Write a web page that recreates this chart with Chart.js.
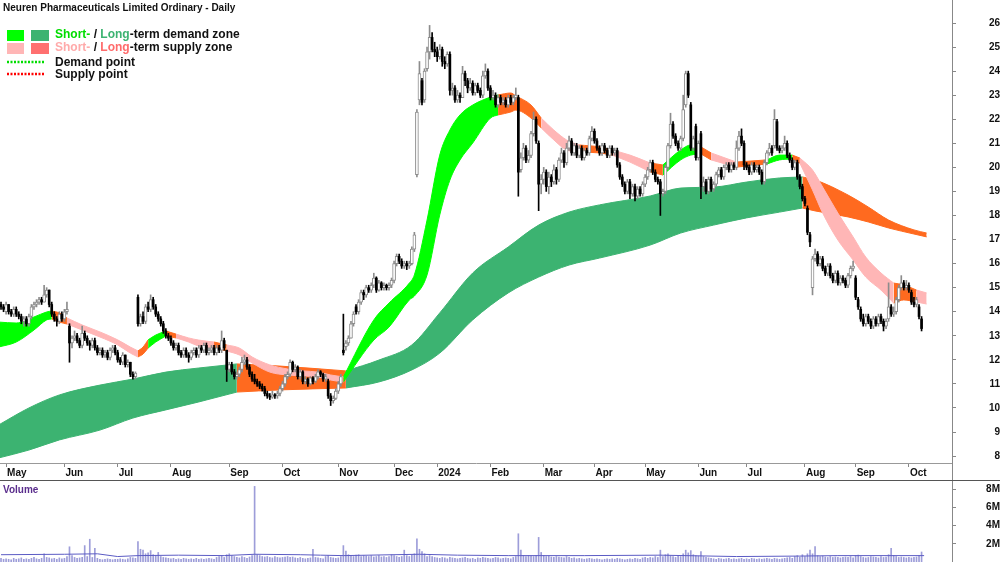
<!DOCTYPE html>
<html>
<head>
<meta charset="utf-8">
<script src="https://cdn.jsdelivr.net/npm/chart.js@4.4.1/dist/chart.umd.min.js"></script>
<style>
  html, body { margin: 0; padding: 0; background: #fff; }
  #wrap { position: relative; width: 1000px; height: 562px; overflow: hidden; }
  #price { position: absolute; left: 0; top: 0; }
  #vol { position: absolute; left: 0; top: 480px; }
</style>
</head>
<body>
<div id="wrap">
  <canvas id="price" width="1000" height="480"></canvas>
  <canvas id="vol" width="1000" height="82"></canvas>
</div>
<script>
// Titel + achsen
const chartTitle = "Neuren Pharmaceuticals Limited Ordinary - Daily";
const monthTickIdx = [2, 25, 46, 67, 90, 111, 133, 155, 172, 193, 214, 234, 254, 275, 294, 317, 337, 358];
const monthLabels = ["May","Jun","Jul","Aug","Sep","Oct","Nov","Dec","2024","Feb","Mar","Apr","May","Jun","Jul","Aug","Sep","Oct"];
const priceTicks = [8,9,10,11,12,13,14,15,16,17,18,19,20,21,22,23,24,25,26];
const volumeTicks = [2, 4, 6, 8];

// daily bars, one entry per trading day (index 0 = late Apr 2023)
const opens = [
  14.3,14.2,14.0,14.3,14.0,13.9,14.1,13.9,13.8,13.6, 13.7,13.5,13.8,14.2,14.3,14.4,14.5,14.4,14.7,14.9,
  14.3,13.9,13.7,13.6,13.9,13.7,14.0,13.4,12.7,12.9, 13.0,12.8,12.6,13.1,12.9,12.7,12.6,12.8,12.5,12.3,
  12.4,12.2,12.3,12.1,12.4,12.5,12.3,12.0,11.9,12.2, 11.8,11.9,11.4,11.3,14.6,13.5,13.8,13.6,14.2,14.1,
  14.5,14.2,13.9,13.7,13.5,13.2,13.0,12.9,12.7,12.5, 12.6,12.3,12.2,12.4,12.2,12.1,12.3,12.4,12.2,12.5,
  12.4,12.6,12.3,12.4,12.5,12.3,12.5,12.4,12.8,12.4, 11.6,11.8,11.5,11.3,11.4,11.6,11.9,12.0,11.7,11.4,
  11.2,11.1,11.0,10.9,10.8,10.6,10.5,10.45,10.55,10.5, 10.6,10.8,11.0,11.3,11.4,11.9,11.6,11.7,11.3,11.5,
  11.1,11.2,11.0,11.25,11.1,11.3,11.5,11.4,11.2,11.1, 10.5,10.3,10.4,10.7,11.0,12.4,12.55,12.7,12.9,13.5,
  14.2,14.0,14.4,14.8,14.7,15.0,14.9,15.1,15.4,14.9, 15.2,15.0,15.1,15.0,15.1,15.3,16.0,16.3,16.1,15.9,
  16.0,15.9,16.0,16.6,19.7,22.8,23.6,22.8,24.1,24.8, 25.4,24.9,24.8,24.6,24.9,24.4,24.3,24.7,23.2,23.3,
  22.8,23.0,22.9,23.9,23.6,23.3,23.5,23.1,23.4,23.2, 23.0,23.8,24.0,23.3,22.9,23.0,22.6,22.9,22.7,22.8,
  22.6,22.9,22.7,22.9,22.9,19.9,20.4,20.8,20.3,20.5, 21.4,22.0,21.0,19.3,19.5,19.8,19.2,19.6,19.4,19.9,
  19.5,20.3,20.6,20.2,20.8,21.1,20.6,20.9,20.5,20.8, 20.4,20.7,20.6,21.2,21.5,21.1,20.8,20.6,20.9,20.7,
  20.5,20.8,20.6,20.7,20.1,19.6,19.3,19.0,19.4,18.9, 19.2,18.8,19.1,18.9,19.3,19.6,19.9,20.2,19.8,19.5,
  19.4,18.9,19.0,20.0,20.9,21.8,21.3,21.0,20.8,21.2, 22.6,23.9,22.6,20.8,21.7,20.4,21.4,19.2,19.4,19.0,
  19.5,19.1,19.3,19.7,19.9,19.6,20.0,20.1,19.9,20.1, 20.0,20.8,21.3,21.0,20.1,20.0,19.8,20.1,19.9,20.0,
  19.8,19.4,20.2,20.6,20.8,20.9,21.9,20.8,20.7,20.8, 21.0,20.5,20.3,20.0,20.2,19.6,19.2,18.7,18.3,17.2,
  15.0,16.2,16.4,16.0,16.2,15.8,15.6,15.9,15.5,15.3, 15.6,15.2,15.4,15.3,15.1,15.5,15.8,15.4,14.5,14.1,
  13.7,13.5,13.8,13.6,13.4,13.7,13.5,13.8,13.6,13.4, 13.7,14.2,13.9,14.0,14.5,15.0,15.2,15.0,15.1,14.8,
  14.4,14.3,14.2,13.7
];
const highs = [
  14.4,14.3,14.4,14.3,14.1,14.2,14.2,14.0,13.9,13.8, 13.8,13.9,14.3,14.4,14.5,14.6,14.6,15.1,15.0,14.9,
  14.4,14.0,13.8,14.0,14.0,14.1,14.4,13.5,13.0,13.2, 13.1,12.9,13.4,13.2,13.0,12.8,12.9,12.9,12.6,12.5,
  12.5,12.4,12.4,12.5,12.6,12.6,12.4,12.1,12.3,12.2, 12.0,11.9,11.5,11.5,14.7,13.9,14.0,14.3,14.4,14.7,
  14.6,14.3,14.0,13.8,13.6,13.3,13.1,13.0,12.8,12.7, 12.7,12.4,12.5,12.5,12.3,12.4,12.5,12.5,12.6,12.6,
  12.7,12.7,12.5,12.6,12.6,12.6,12.6,13.2,12.9,12.4, 11.9,11.9,11.6,11.5,11.7,12.1,12.2,12.1,11.8,11.5,
  11.4,11.2,11.1,11.0,10.9,10.7,10.6,10.7,10.6,10.7, 10.9,11.1,11.4,11.5,12.0,11.95,11.8,11.75,11.6,11.55,
  11.3,11.25,11.3,11.3,11.4,11.6,11.55,11.45,11.4,11.2, 10.6,10.5,10.8,11.1,11.4,13.9,12.8,13.0,13.6,14.0,
  14.3,14.5,14.9,14.9,15.1,15.1,15.2,15.6,15.45,15.3, 15.25,15.2,15.15,15.2,15.4,16.1,16.4,16.4,16.2,16.1,
  16.1,16.1,16.7,17.3,22.4,24.4,23.7,24.1,25.0,25.9, 25.6,25.2,25.0,25.1,25.0,24.6,24.8,24.8,23.5,23.4,
  23.2,23.1,24.2,24.0,23.7,23.7,23.6,23.5,23.5,23.3, 24.0,24.3,24.1,23.4,23.2,23.1,23.0,23.0,22.9,22.9,
  23.0,23.0,23.0,23.3,23.0,20.6,21.0,20.9,20.7,21.5, 22.3,22.1,21.1,19.7,20.0,19.9,19.8,19.7,20.1,20.0,
  20.4,20.8,20.7,21.0,21.3,21.2,21.0,21.0,20.9,20.9, 20.8,20.8,21.3,21.7,21.6,21.2,20.9,21.0,21.0,20.8,
  20.9,20.9,20.8,20.8,20.2,19.7,19.4,19.5,19.5,19.3, 19.3,19.2,19.2,19.4,19.7,20.0,20.3,20.3,19.9,19.6,
  19.5,19.1,20.1,21.0,22.25,21.9,21.4,21.1,21.3,23.0, 24.0,24.0,22.7,21.3,21.8,21.1,21.5,19.6,19.5,19.6,
  19.6,19.4,19.8,20.0,20.0,20.1,20.2,20.2,20.2,20.2, 21.1,21.5,21.6,21.1,20.2,20.1,20.2,20.2,20.1,20.1,
  19.9,20.3,20.7,21.0,20.9,22.4,22.0,20.9,20.9,21.3, 21.1,20.6,20.4,20.3,20.3,19.7,19.3,18.8,18.4,17.3,
  16.3,16.6,16.5,16.3,16.3,15.9,16.0,16.0,15.6,15.7, 15.7,15.5,15.5,15.4,15.6,15.9,16.1,15.5,14.6,14.2,
  13.9,13.9,13.9,13.7,13.8,13.8,13.9,13.9,13.7,13.7, 15.2,14.3,14.2,14.6,15.1,15.5,15.3,15.3,15.2,14.9,
  14.6,14.6,14.3,13.8
];
const lows = [
  14.1,14.0,13.9,13.9,13.8,13.8,13.8,13.7,13.5,13.4, 13.4,13.4,13.7,14.1,14.2,14.3,14.3,14.4,14.6,14.2,
  13.8,13.6,13.4,13.5,13.6,13.6,13.9,11.9,12.5,12.8, 12.7,12.5,12.5,12.8,12.6,12.4,12.5,12.4,12.2,12.2,
  12.1,12.1,12.0,12.0,12.3,12.2,11.9,11.8,11.8,11.7, 11.7,11.3,11.2,11.2,13.4,13.4,13.5,13.5,14.0,14.0,
  14.1,13.8,13.6,13.4,13.1,12.9,12.8,12.6,12.4,12.4, 12.2,12.1,12.1,12.1,11.9,12.0,12.2,12.1,12.1,12.3,
  12.3,12.2,12.2,12.3,12.2,12.2,12.3,12.3,12.4,11.1, 11.5,11.4,11.2,11.2,11.3,11.5,11.8,11.6,11.3,11.1,
  11.0,10.9,10.8,10.7,10.5,10.4,10.35,10.4,10.4,10.4, 10.5,10.7,10.9,11.2,11.3,11.5,11.5,11.2,11.2,11.0,
  11.0,10.9,10.95,11.0,11.05,11.2,11.3,11.1,11.1,10.4, 10.1,10.2,10.35,10.6,10.9,12.2,12.4,12.6,12.9,13.4,
  13.9,13.9,14.3,14.5,14.6,14.8,14.8,15.0,14.8,14.85, 14.9,14.9,14.9,14.9,15.0,15.2,15.9,16.0,15.8,15.8,
  15.75,15.8,15.95,16.5,19.6,22.6,22.6,22.7,24.0,24.5, 24.8,24.6,24.4,24.5,24.2,24.1,24.2,23.0,23.0,22.7,
  22.7,22.7,22.9,23.4,23.1,23.2,23.0,23.0,23.1,22.9, 22.9,23.7,23.2,22.8,22.8,22.5,22.5,22.6,22.6,22.5,
  22.5,22.6,22.6,22.8,18.8,19.8,20.3,20.2,20.2,20.4, 21.3,21.0,18.2,18.9,19.3,19.0,18.9,19.2,19.3,19.3,
  19.4,20.2,20.0,20.1,20.7,20.5,20.5,20.4,20.4,20.3, 20.3,20.5,20.5,21.1,21.0,20.7,20.5,20.5,20.6,20.4,
  20.4,20.5,20.5,20.0,19.5,19.2,18.9,18.9,18.7,18.8, 18.6,18.7,18.8,18.8,19.2,19.5,19.8,19.7,19.4,19.3,
  18.0,18.8,18.9,19.9,20.8,21.2,20.9,20.7,20.7,21.1, 22.5,22.9,20.7,20.7,20.3,20.3,18.7,19.0,18.9,18.9,
  19.0,19.0,19.2,19.6,19.5,19.5,19.9,19.8,19.8,19.9, 19.9,20.7,20.9,19.9,19.9,19.7,19.7,19.8,19.8,19.7,
  19.3,19.3,20.1,20.5,20.5,20.8,20.7,20.6,20.6,20.7, 20.4,20.2,19.9,19.9,19.5,19.1,18.6,18.4,17.2,16.7,
  14.7,16.1,15.9,15.9,15.7,15.5,15.5,15.4,15.2,15.2, 15.1,15.1,15.2,15.0,15.0,15.4,15.7,14.5,14.1,13.6,
  13.4,13.4,13.5,13.3,13.3,13.4,13.4,13.5,13.2,13.3, 13.6,13.8,13.8,13.9,14.4,14.9,14.9,14.9,14.8,14.3,
  14.2,14.2,13.7,13.2
];
const closes = [
  14.2,14.1,14.3,14.0,13.9,14.1,13.9,13.8,13.6,13.7, 13.5,13.8,14.2,14.3,14.4,14.5,14.4,14.7,14.9,14.3,
  13.9,13.7,13.6,13.9,13.7,14.0,14.1,12.7,12.9,13.0, 12.8,12.6,13.1,12.9,12.7,12.6,12.8,12.5,12.3,12.4,
  12.2,12.3,12.1,12.4,12.5,12.3,12.0,11.9,12.2,11.8, 11.9,11.4,11.3,11.45,13.5,13.8,13.6,14.2,14.1,14.5,
  14.2,13.9,13.7,13.5,13.2,13.0,12.9,12.7,12.5,12.6, 12.3,12.2,12.4,12.2,12.1,12.3,12.4,12.2,12.5,12.4,
  12.6,12.3,12.4,12.5,12.3,12.5,12.4,12.8,12.5,11.6, 11.8,11.5,11.3,11.4,11.6,11.9,12.0,11.7,11.4,11.2,
  11.1,11.0,10.9,10.8,10.6,10.5,10.45,10.55,10.5,10.6, 10.8,11.0,11.3,11.4,11.9,11.6,11.7,11.3,11.5,11.1,
  11.2,11.0,11.25,11.1,11.3,11.5,11.4,11.2,11.3,10.5, 10.3,10.4,10.7,11.0,11.3,12.3,12.7,12.9,13.5,13.9,
  14.0,14.4,14.8,14.7,15.0,14.9,15.1,15.4,14.9,15.2, 15.0,15.1,15.0,15.1,15.3,16.0,16.3,16.1,15.9,16.0,
  15.9,16.0,16.6,17.2,22.3,23.9,22.7,24.0,24.8,25.4, 24.9,24.8,24.6,24.9,24.4,24.3,24.7,23.2,23.3,22.8,
  23.0,22.9,23.9,23.6,23.3,23.5,23.1,23.4,23.2,23.0, 23.8,24.0,23.3,22.9,23.0,22.6,22.9,22.7,22.8,22.6,
  22.9,22.7,22.9,23.0,19.8,20.4,20.8,20.3,20.5,21.4, 22.0,21.1,19.3,19.5,19.8,19.2,19.6,19.4,19.9,19.5,
  20.3,20.6,20.2,20.8,21.1,20.6,20.9,20.5,20.8,20.4, 20.7,20.6,21.2,21.5,21.1,20.8,20.6,20.9,20.7,20.5,
  20.8,20.6,20.7,20.1,19.6,19.3,19.0,19.4,18.9,19.2, 18.8,19.1,18.9,19.3,19.6,19.9,20.2,19.8,19.5,19.4,
  18.9,19.0,20.0,20.9,21.8,21.3,21.0,20.8,21.2,22.4, 23.9,23.0,20.8,21.2,20.4,21.0,19.2,19.4,19.0,19.5,
  19.1,19.3,19.7,19.9,19.6,20.0,20.1,19.9,20.1,20.0, 20.8,21.3,21.0,20.1,20.0,19.8,20.1,19.9,20.0,19.8,
  19.4,20.2,20.6,20.8,20.6,22.0,20.8,20.7,20.8,21.0, 20.5,20.3,20.0,20.2,19.6,19.2,18.7,18.5,17.3,16.9,
  16.2,16.4,16.0,16.2,15.8,15.6,15.9,15.5,15.3,15.6, 15.2,15.4,15.3,15.1,15.5,15.8,15.9,14.6,14.2,13.7,
  13.5,13.8,13.6,13.4,13.7,13.5,13.8,13.6,13.4,13.6, 14.2,13.9,14.0,14.5,15.0,15.2,15.0,15.1,14.9,14.4,
  14.3,14.5,13.8,13.3
];
// volume in millions
const volumes = [
  0.4,0.3,0.35,0.3,0.25,0.4,0.3,0.35,0.45,0.3, 0.35,0.3,0.4,0.5,0.35,0.3,0.4,0.9,0.5,0.45,
  0.35,0.4,0.3,0.45,0.35,0.4,0.6,1.67,0.7,0.5, 0.4,0.45,0.5,1.8,0.6,2.5,0.5,1.5,0.4,0.3,
  0.25,0.3,0.35,0.3,0.25,0.3,0.3,0.35,0.3,0.25, 0.35,0.5,0.45,0.4,2.25,1.4,1.3,0.9,1.0,1.25,
  0.8,0.7,1.05,0.6,0.5,0.45,0.4,0.35,0.4,0.3, 0.35,0.3,0.4,0.35,0.3,0.35,0.3,0.4,0.3,0.35,
  0.3,0.35,0.4,0.35,0.3,0.5,0.6,0.7,0.5,0.8, 0.9,0.7,0.6,0.5,0.45,0.6,0.5,0.4,0.55,0.7,
  8.3,0.8,0.7,0.6,0.55,0.6,0.5,0.45,0.6,0.5, 0.45,0.5,0.55,0.6,0.5,0.55,0.45,0.4,0.5,0.4,
  0.35,0.4,0.45,1.4,0.5,0.45,0.4,0.35,0.6,0.7, 0.5,0.45,0.4,0.45,0.6,1.8,1.2,0.8,0.7,0.6,
  0.75,0.8,0.6,0.7,0.65,0.6,0.7,0.55,0.6,0.7, 0.55,0.6,0.5,0.6,0.8,0.7,0.6,0.5,0.6,1.3,
  0.7,0.6,0.8,0.9,2.55,1.4,1.15,0.9,0.6,0.7, 0.6,0.5,0.45,0.4,0.5,0.45,0.35,0.5,0.45,0.4,
  0.35,0.4,0.45,0.5,0.4,0.35,0.4,0.3,0.45,0.4, 0.5,0.45,0.4,0.35,0.4,0.5,0.45,0.35,0.4,0.45,
  0.4,0.35,0.5,0.6,3.1,1.3,0.7,0.6,0.7,0.65, 0.6,0.7,2.7,1.05,0.7,0.6,0.65,0.55,0.5,0.6,
  0.55,0.5,0.45,0.6,0.5,0.4,0.45,0.35,0.4,0.35, 0.3,0.35,0.4,0.35,0.3,0.35,0.3,0.25,0.3,0.35,
  0.3,0.35,0.3,0.4,0.35,0.3,0.25,0.3,0.35,0.3, 0.4,0.35,0.3,0.45,0.5,0.4,0.5,0.45,0.6,0.5,
  1.3,0.6,0.8,0.9,0.7,0.6,0.5,0.7,0.6,0.9, 1.3,1.0,1.25,0.8,0.7,0.65,1.15,0.6,0.5,0.45,
  0.4,0.35,0.3,0.4,0.35,0.3,0.35,0.4,0.3,0.35, 0.3,0.35,0.4,0.3,0.35,0.3,0.4,0.35,0.3,0.35,
  0.3,0.35,0.4,0.35,0.3,0.4,0.35,0.3,0.35,0.4, 0.45,0.5,0.4,0.6,0.7,0.55,0.8,0.6,0.9,1.3,
  0.9,1.7,0.7,0.6,0.65,0.55,0.5,0.6,0.5,0.55, 0.5,0.45,0.5,0.55,0.5,0.6,0.45,0.7,0.75,0.6,
  0.5,0.45,0.5,0.6,0.55,0.5,0.45,0.6,0.5,0.55, 0.8,1.5,0.7,0.6,0.5,0.55,0.5,0.45,0.5,0.45,
  0.5,0.55,0.7,1.1
];
const volAvgIdx = [0, 25, 38, 46, 54, 70, 88, 100, 118, 126, 135, 165, 180, 200, 230, 260, 290, 315, 330, 364];
const volAvg    = [0.8, 0.85, 0.9, 0.6, 0.7, 0.75, 0.7, 0.85, 0.8, 0.75, 0.7, 0.85, 0.75, 0.7, 0.7, 0.75, 0.6, 0.65, 0.7, 0.7];

// long-term zone (D = demand, S = supply), zone letter = colour up to the next sample
const longIdx = [-1, 11, 23, 39, 52, 65, 78, 93, 110, 136, 149, 162, 173, 186, 200, 212, 224, 236, 256, 268, 281, 294, 307, 316, 321, 334, 342, 350, 360, 365];
const longHi  = [9.29, 10.0, 10.54, 10.95, 11.20, 11.49, 11.66, 11.83, 11.74, 11.54, 11.99, 12.62, 13.95, 15.61, 16.69, 17.60, 18.14, 18.44, 18.81, 19.14, 19.18, 19.39, 19.56, 19.60, 19.48, 18.85, 18.35, 17.81, 17.40, 17.27];
const longLo  = [7.92, 8.25, 8.67, 9.08, 9.58, 9.92, 10.25, 10.66, 10.75, 10.83, 11.08, 11.58, 12.28, 13.66, 14.78, 15.44, 15.94, 16.23, 16.77, 17.27, 17.60, 17.90, 18.14, 18.31, 18.19, 17.94, 17.73, 17.48, 17.23, 17.11];
const longZones = "DDDDDDDSSDDDDDDDDDDDDDDSSSSSSS";

// short-term zone (G = demand, P = supply, O = supply dark)
const shortIdx = [-1, 6, 13, 18, 20, 23, 26, 32, 39, 46, 51, 54, 56, 58, 61, 65, 69, 74, 78, 84, 89, 94, 99, 106, 113, 119, 125, 130, 135, 147, 153, 161, 163, 168, 173, 177, 181, 186, 193, 196, 201, 203, 209, 213, 218, 223, 228, 236, 241, 248, 256, 261, 268, 272, 276, 280, 290, 302, 307, 312, 315, 320, 324, 330, 336, 341, 347, 352, 356, 361, 365];
const shortHi = [13.57,13.53,13.78,13.99,14.03,13.95,13.74,13.45,13.16,12.83, 12.53,12.37,12.53,12.83,13.03,13.20,13.07,12.91,12.82,12.74,
  12.62,12.49,12.12,11.79,11.62,11.54,11.49,11.37,11.29,13.66, 14.36,15.19,15.53,17.81,20.51,21.55,22.18,22.59,22.92,23.01,
  23.09,22.97,22.59,22.05,21.55,21.14,20.93,20.85,20.72,20.51, 20.18,20.10,20.72,20.93,20.85,20.60,20.22,20.31,20.51,20.51,
  20.39,19.89,19.18,18.10,17.11,16.27,15.61,15.19,15.11,14.90, 14.78];
const shortLo = [12.53,12.74,13.24,13.66,13.70,13.57,13.49,13.24,12.95,12.62, 12.28,12.12,12.24,12.49,12.74,12.99,12.91,12.74,12.57,12.49,
  12.37,12.20,11.87,11.49,11.37,11.33,11.29,11.16,11.08,12.82, 13.36,14.49,14.65,15.53,18.02,19.47,20.31,21.01,22.05,22.18,
  22.30,22.38,22.05,21.64,21.14,20.72,20.64,20.60,20.51,20.22, 19.81,19.68,20.31,20.51,20.56,20.31,20.01,20.14,20.31,20.35,
  20.18,19.06,18.10,16.98,16.15,15.44,14.90,14.36,14.49,14.40, 14.32];
const shortZones = "GGGGOOPPPPPOOGGOPPPOPPPPPPPPGGGGGGGGGGGOOOOPPPOOPPOGGGOPOGGOPPPPPPPOOPP";

const ZONE_COLORS = { G: "#00ff00", D: "#3cb371", P: "#ffb6b6", O: "#ff6a1f", S: "#ff6a1f" };

const FONT = '"Liberation Sans", Arial, sans-serif';
Chart.defaults.font.family = FONT;

// bands als paar line-datasets, obere fuellt bis zur unteren
function addBand(datasets, idx, hi, lo, zones, order) {
  let a = 0;
  while (a < idx.length - 1) {
    let b = a + 1;
    while (b < idx.length - 1 && zones[b] === zones[a]) b++;
    const col = ZONE_COLORS[zones[a]];
    const loPts = [], hiPts = [];
    for (let k = a; k <= b; k++) {
      loPts.push({ x: idx[k], y: lo[k] });
      hiPts.push({ x: idx[k], y: hi[k] });
    }
    const loIndex = datasets.length;
    datasets.push({ type: "line", data: loPts, borderColor: col, borderWidth: 1, pointRadius: 0,
      fill: false, order, cubicInterpolationMode: "monotone" });
    datasets.push({ type: "line", data: hiPts, borderColor: col, borderWidth: 1, backgroundColor: col,
      pointRadius: 0, fill: loIndex, order, cubicInterpolationMode: "monotone" });
    a = b;
  }
}

// candle parts
const wickData = [], wickColors = [], upData = [], downData = [];
closes.forEach((c, i) => {
  const up = c >= opens[i];
  wickData.push({ x: i, y: [lows[i], highs[i]] });
  wickColors.push(up ? "#8c8c8c" : "#000000");
  if (up) upData.push({ x: i, y: [opens[i], c] });
  else downData.push({ x: i, y: [c, opens[i]] });
});

const priceSets = [];
addBand(priceSets, longIdx, longHi, longLo, longZones, 20);
addBand(priceSets, shortIdx, shortHi, shortLo, shortZones, 10);
priceSets.push({ type: "bar", data: wickData, backgroundColor: wickColors, barThickness: 1, grouped: false, order: 3 });
priceSets.push({ type: "bar", data: upData, backgroundColor: "#ffffff", borderColor: "#8c8c8c", borderWidth: 1,
  borderSkipped: false, barThickness: 3, minBarLength: 1, grouped: false, order: 2 });
priceSets.push({ type: "bar", data: downData, backgroundColor: "#000000", barThickness: 2, minBarLength: 1,
  grouped: false, order: 1 });

const legendRows = [
  { y: 38, boxes: ["#00ff00", "#3cb371"], parts: [["Short-", "#00dd00"], [" / ", "#111"], ["Long", "#3cb371"], ["-term demand zone", "#111"]] },
  { y: 51, boxes: ["#ffb6b6", "#ff7070"], parts: [["Short-", "#ffaaaa"], [" / ", "#111"], ["Long", "#ff6b6b"], ["-term supply zone", "#111"]] },
  { y: 66, dots: "#00dd00", parts: [["Demand point", "#111"]] },
  { y: 78, dots: "#ff0000", parts: [["Supply point", "#111"]] }
];

const headerPlugin = {
  id: "header",
  afterDraw(chart) {
    const ctx = chart.ctx;
    ctx.save();
    ctx.textBaseline = "alphabetic";
    ctx.font = "bold 10px " + FONT;
    ctx.fillStyle = "#111";
    ctx.fillText(chartTitle, 3, 11);
    ctx.font = "bold 12px " + FONT;
    legendRows.forEach(row => {
      if (row.boxes) {
        ctx.fillStyle = row.boxes[0]; ctx.fillRect(7, row.y - 8, 17, 11);
        ctx.fillStyle = row.boxes[1]; ctx.fillRect(31, row.y - 8, 18, 11);
      } else {
        ctx.strokeStyle = row.dots; ctx.lineWidth = 2.5; ctx.setLineDash([2, 1.5]);
        ctx.beginPath(); ctx.moveTo(7, row.y - 4); ctx.lineTo(44, row.y - 4); ctx.stroke();
        ctx.setLineDash([]);
      }
      let x = 55;
      row.parts.forEach(([t, c]) => { ctx.fillStyle = c; ctx.fillText(t, x, row.y); x += ctx.measureText(t).width; });
    });
    // axis line through the month strip
    ctx.strokeStyle = "#888"; ctx.lineWidth = 1;
    ctx.beginPath(); ctx.moveTo(chart.chartArea.right + 0.5, chart.chartArea.bottom); ctx.lineTo(chart.chartArea.right + 0.5, 480); ctx.stroke();
    ctx.restore();
  }
};

new Chart(document.getElementById("price"), {
  type: "bar",
  data: { datasets: priceSets },
  options: {
    responsive: false, animation: false, devicePixelRatio: 1, events: [],
    layout: { padding: 0 },
    plugins: { legend: { display: false }, tooltip: { enabled: false }, title: { display: false } },
    scales: {
      x: {
        type: "linear", min: -0.4, max: 375, offset: false, position: "bottom",
        grid: { display: true, offset: false, drawOnChartArea: false, drawTicks: true, tickLength: 4, color: "#888" },
        border: { display: true, color: "#999" },
        ticks: { autoSkip: false, maxRotation: 0, align: "start", labelOffset: 1, padding: 0, color: "#111",
          font: { size: 10, weight: "bold" }, callback: (v, i) => monthLabels[i] },
        afterBuildTicks: s => { s.ticks = monthTickIdx.map(v => ({ value: v })); },
        afterFit: s => { s.height = 17; s.paddingLeft = 0; s.paddingRight = 0; }
      },
      y: {
        position: "right", min: 7.712, max: 26.956,
        grid: { drawOnChartArea: false, tickLength: 4, color: "#888" },
        border: { color: "#888" },
        ticks: { crossAlign: "far", padding: 21, color: "#111", font: { size: 10, weight: "bold" } },
        afterBuildTicks: s => { s.ticks = priceTicks.map(v => ({ value: v })); },
        afterFit: s => { s.width = 48; s.paddingTop = 0; s.paddingBottom = 0; }
      }
    }
  },
  plugins: [headerPlugin]
});

// volume panel
const volumePlugin = {
  id: "volHeader",
  afterDraw(chart) {
    const ctx = chart.ctx;
    ctx.save();
    ctx.strokeStyle = "#555"; ctx.lineWidth = 1;
    ctx.beginPath(); ctx.moveTo(0, 0.5); ctx.lineTo(1000, 0.5); ctx.stroke();
    ctx.font = "bold 10px " + FONT;
    ctx.fillStyle = "#5a2d8c";
    ctx.fillText("Volume", 3, 13);
    ctx.restore();
  }
};

new Chart(document.getElementById("vol"), {
  type: "bar",
  data: {
    datasets: [
      { type: "line", data: volAvgIdx.map((x, k) => ({ x, y: volAvg[k] })), borderColor: "#5b5bc4", borderWidth: 1,
        pointRadius: 0, order: 1 },
      { type: "bar", data: volumes.map((v, i) => ({ x: i, y: v })), backgroundColor: "#9d9dd9", barThickness: 1,
        grouped: false, order: 2 }
    ]
  },
  options: {
    responsive: false, animation: false, devicePixelRatio: 1, events: [],
    layout: { padding: 0 },
    plugins: { legend: { display: false }, tooltip: { enabled: false } },
    scales: {
      x: { type: "linear", min: -0.4, max: 375, offset: false, display: false },
      y: {
        position: "right", min: 0, max: 9,
        grid: { drawOnChartArea: false, tickLength: 4, color: "#888" },
        border: { color: "#888" },
        ticks: { crossAlign: "far", padding: 28, color: "#111", font: { size: 10, weight: "bold" }, callback: v => v + "M" },
        afterBuildTicks: s => { s.ticks = volumeTicks.map(v => ({ value: v })); },
        afterFit: s => { s.width = 48; s.paddingTop = 0; s.paddingBottom = 0; }
      }
    }
  },
  plugins: [volumePlugin]
});
</script>
</body>
</html>
